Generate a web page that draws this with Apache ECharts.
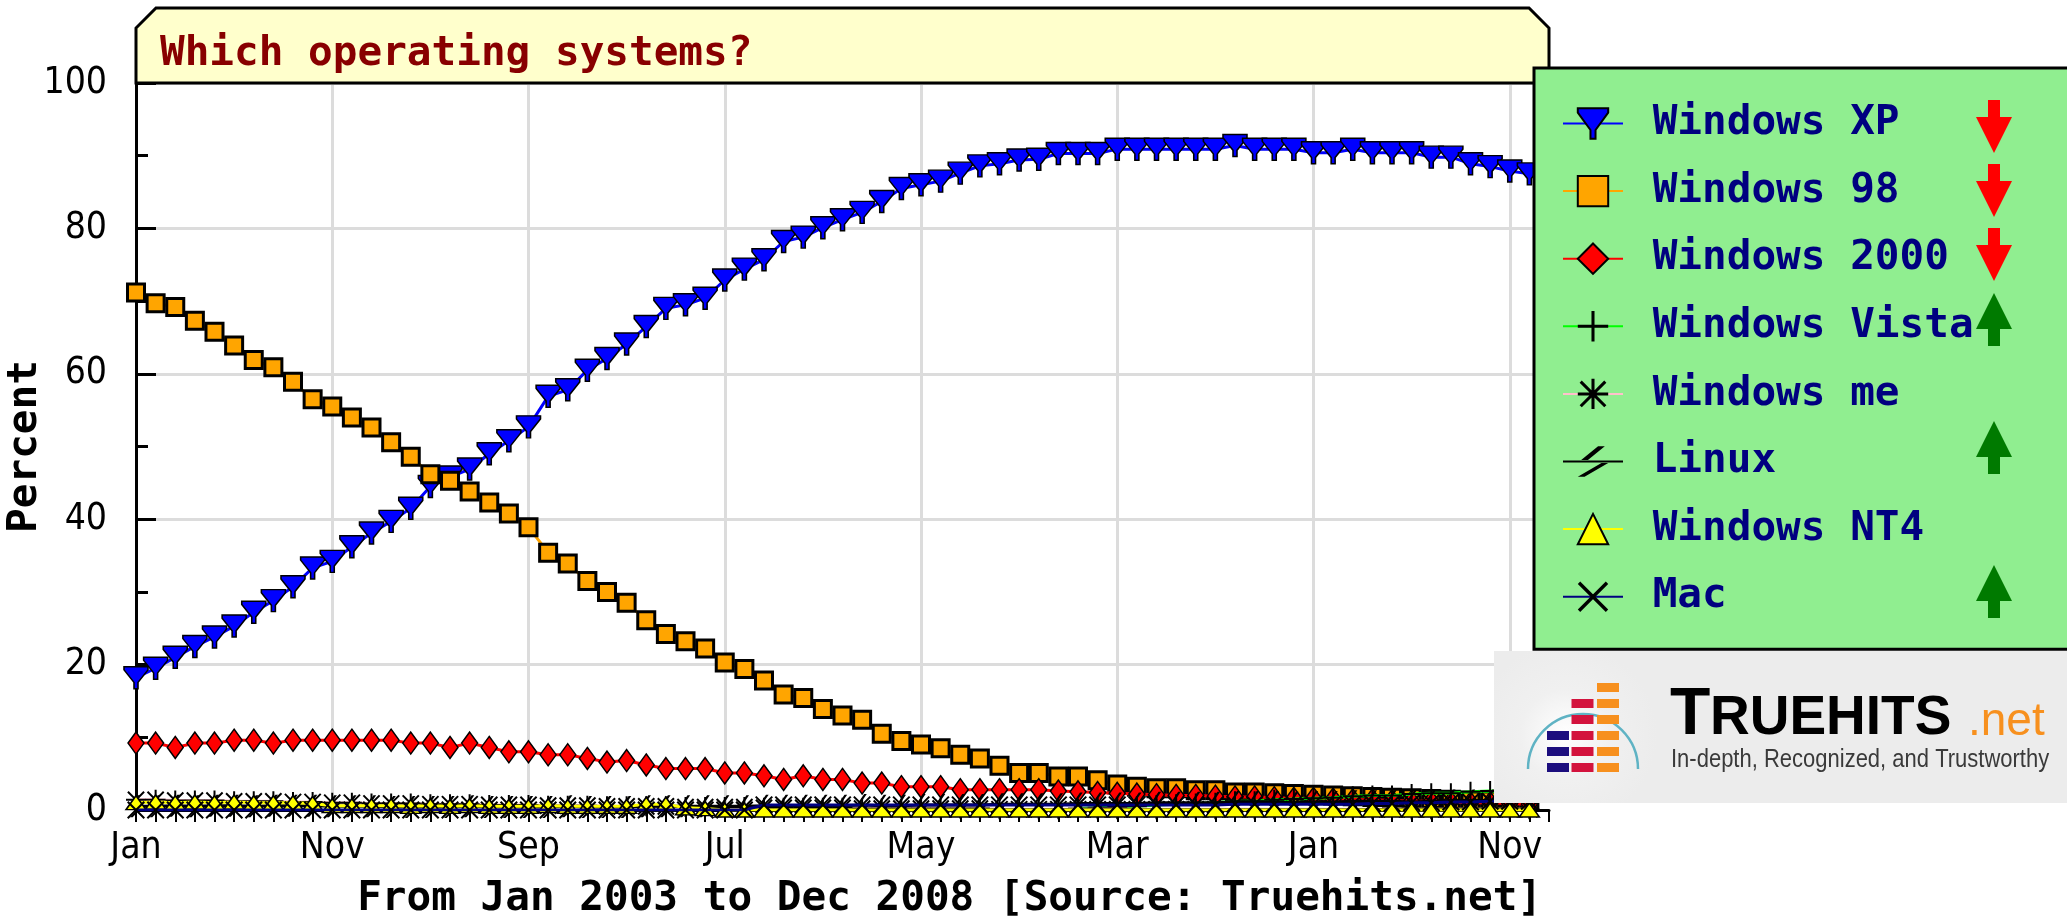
<!DOCTYPE html>
<html>
<head>
<meta charset="utf-8">
<script src="https://cdn.jsdelivr.net/npm/echarts@6/dist/echarts.min.js"></script>
<style>
  html, body { margin: 0; padding: 0; background: #ffffff; }
  #chart { width: 2067px; height: 922px; }
</style>
</head>
<body>
<div id="chart"></div>
<script>
// ---------------- DATA ----------------
const monthNames = ['Jan','Feb','Mar','Apr','May','Jun','Jul','Aug','Sep','Oct','Nov','Dec'];
const years = [2003, 2004, 2005, 2006, 2007, 2008];
const seriesNames = ['Windows XP','Windows 98','Windows 2000','Windows Vista','Windows me','Linux','Windows NT4','Mac'];
const trends = ['down','down','down','up',null,'up',null,'up'];
const yTicks = [0, 20, 40, 60, 80, 100];

const winXP = [18.2,19.5,21.0,22.5,23.8,25.3,27.2,28.8,30.7,33.3,
  34.2,36.2,38.1,39.7,41.5,44.5,45.8,46.9,49.0,50.8,
  52.7,56.9,57.8,60.5,62.1,64.1,66.5,69.0,69.5,70.4,
  72.9,74.4,75.7,78.2,78.8,80.1,81.2,82.2,83.7,85.5,
  86.0,86.5,87.6,88.6,88.9,89.4,89.5,90.3,90.3,90.3,
  90.9,90.9,90.9,90.9,90.9,90.9,91.4,90.9,90.9,90.9,
  90.4,90.4,90.9,90.4,90.4,90.4,89.8,89.8,88.9,88.5,
  87.9,87.5];
const win98 = [71.2,69.7,69.2,67.3,65.8,63.9,61.9,60.9,58.9,56.5,
  55.5,54.0,52.6,50.6,48.6,46.2,45.3,43.8,42.3,40.8,
  38.9,35.4,33.9,31.5,30.0,28.5,26.1,24.2,23.2,22.2,
  20.3,19.4,17.8,15.9,15.4,13.9,13.0,12.4,10.5,9.5,
  9.0,8.5,7.6,7.1,6.1,5.1,5.1,4.6,4.6,4.1,
  3.5,3.2,3.0,3.0,2.7,2.7,2.4,2.4,2.3,2.2,
  2.1,2.0,1.9,1.8,1.7,1.6,1.5,1.4,1.3,1.3,
  1.2,1.1];
const win2000 = [9.2,9.2,8.6,9.2,9.2,9.6,9.6,9.2,9.6,9.6,
  9.6,9.6,9.6,9.6,9.2,9.2,8.6,9.2,8.6,8.0,
  8.0,7.6,7.6,7.1,6.6,6.8,6.2,5.7,5.7,5.7,
  5.1,5.1,4.7,4.2,4.7,4.2,4.2,3.7,3.7,3.2,
  3.2,3.2,2.8,2.8,2.8,2.8,2.8,2.6,2.5,2.4,
  2.3,2.2,2.1,2.0,2.0,1.9,1.8,1.8,1.7,1.6,
  1.6,1.5,1.4,1.4,1.3,1.2,1.2,1.1,1.0,1.0,
  0.9,0.8];
const winVista = [null,null,null,null,null,null,null,null,null,null,
  null,null,null,null,null,null,null,null,null,null,
  null,null,null,null,null,null,null,null,null,null,
  null,null,null,null,null,null,null,null,null,null,
  null,null,null,null,null,null,null,null,0.2,0.3,
  0.4,0.5,0.7,0.8,0.9,1.0,1.2,1.2,1.4,1.5,
  1.6,1.7,1.9,2.0,2.0,2.2,2.3,2.3,2.5,2.6,
  2.5,2.6];
const winMe = [1.4,1.4,1.3,1.3,1.3,1.2,1.2,1.2,1.1,1.1,
  1.0,1.0,0.9,0.9,0.9,0.8,0.8,0.8,0.7,0.7,
  0.7,0.6,0.6,0.6,0.5,0.5,0.5,0.5,0.4,0.4,
  0.4,0.4,0.3,0.3,0.3,0.3,0.3,0.2,0.2,0.2,
  0.2,0.2,0.2,0.2,0.1,0.1,0.1,0.1,0.1,0.1,
  0.1,0.1,0.1,0.1,0.1,0.1,0.1,0.1,0.1,0.1,
  0.1,0.1,0.1,0.1,0.1,0.1,0.1,0.1,0.1,0.1,
  0.1,0.1];
const linux = [0.5,0.5,0.6,0.5,0.6,0.6,0.5,0.6,0.6,0.6,
  0.5,0.5,0.5,0.4,0.4,0.4,0.4,0.5,0.4,0.4,
  0.4,0.4,0.5,0.4,0.4,0.4,0.5,0.5,0.5,0.5,
  0.5,0.5,0.6,0.6,0.6,0.6,0.6,0.7,0.6,0.6,
  0.7,0.7,0.7,0.7,0.8,0.8,0.8,0.8,0.9,0.9,
  0.9,0.9,1.0,1.0,1.0,1.0,1.1,1.1,1.1,1.0,
  1.1,1.1,1.2,1.2,1.2,1.1,1.2,1.3,1.3,1.3,
  1.4,1.4];
const winNT4 = [1.0,1.1,1.0,1.1,1.0,1.1,1.0,1.0,1.0,0.9,
  0.6,0.6,0.6,0.6,0.5,0.6,0.5,0.6,0.5,0.5,
  0.5,0.6,0.5,0.5,0.5,0.5,0.8,0.8,0.3,0.2,
  0.0,0.0,0.0,0.0,0.0,0.0,0.0,0.0,0.0,0.0,
  0.0,0.0,0.0,0.0,0.0,0.0,0.0,0.0,0.0,0.0,
  0.0,0.0,0.0,0.0,0.0,0.0,0.0,0.0,0.0,0.0,
  0.0,0.0,0.0,0.0,0.0,0.0,0.0,0.0,0.0,0.0,
  0.0,0.0];
const mac = [0.0,0.0,0.0,0.0,0.0,0.0,0.0,0.0,0.0,0.0,
  0.0,0.0,0.0,0.0,0.0,0.0,0.0,0.0,0.0,0.0,
  0.0,0.0,0.0,0.0,0.0,0.0,0.0,0.0,0.0,0.0,
  0.0,0.0,0.7,0.7,0.7,0.7,0.7,0.7,0.7,0.7,
  0.7,0.7,0.7,0.7,0.7,0.7,0.7,0.7,0.7,0.7,
  0.7,0.7,0.7,0.7,0.7,0.7,0.8,0.8,0.8,0.8,
  0.8,0.8,0.8,0.9,0.9,1.0,1.0,1.1,1.1,1.2,
  1.2,1.2];

// month categories Jan 2003 .. Dec 2008
const categories = [];
years.forEach(y => monthNames.forEach(m => categories.push(m + ' ' + y)));

// ---------------- STYLE ----------------
const MONO = "'DejaVu Sans Mono', 'Liberation Mono', monospace";
const COND = "'DejaVu Sans Condensed', 'Liberation Sans Narrow', 'DejaVu Sans', sans-serif";

const SYM = {
  xp: 'path://M0,0H24V3L14,15V21H10V15L0,3Z',
  plus: 'path://M9,0H11V9H20V11H11V20H9V11H0V9H9Z',
  star: 'path://M9,0H11V20H9Z M0,9H20V11H0Z M2.6,1.2L18.8,17.4L17.4,18.8L1.2,2.6Z M17.4,1.2L18.8,2.6L2.6,18.8L1.2,17.4Z',
  zig: 'path://M12,0H14L9,9H7Z M13,11H15L8,20H6Z',
  cross: 'path://M2.6,1.2L18.8,17.4L17.4,18.8L1.2,2.6Z M17.4,1.2L18.8,2.6L2.6,18.8L1.2,17.4Z'
};

const seriesDefs = [
  { data: winXP,    line: '#0000ff', symbol: SYM.xp,      size: [24, 22], fill: '#0000ff', border: '#000', bw: 1.5 },
  { data: win98,    line: '#ffa500', symbol: 'rect',      size: 17,       fill: '#ffa500', border: '#000', bw: 3 },
  { data: win2000,  line: '#ff0000', symbol: 'diamond',   size: [16, 22], fill: '#ff0000', border: '#000', bw: 1.5 },
  { data: winVista, line: '#00ff00', symbol: SYM.plus,    size: 20,       fill: '#000000', border: '#000', bw: 0 },
  { data: winMe,    line: '#ffc0cb', symbol: SYM.star,    size: 20,       fill: '#000000', border: '#000', bw: 0 },
  { data: linux,    line: '#000000', symbol: SYM.zig,     size: [12, 22], fill: '#000000', border: '#000', bw: 0 },
  { data: winNT4,   line: '#ffff00', symbol: 'triangle',  size: [20, 14], fill: '#ffff00', border: '#000', bw: 1.5 },
  { data: mac,      line: '#000080', symbol: SYM.cross,   size: 18,       fill: '#000000', border: '#000', bw: 0 }
];

const series = seriesDefs.map((d, i) => ({
  name: seriesNames[i],
  type: 'line',
  data: d.data,
  showAllSymbol: true,
  symbol: d.symbol,
  symbolSize: d.size,
  connectNulls: false,
  animation: false,
  z: 2 + i * 0.01,
  lineStyle: { color: d.line, width: 3 },
  itemStyle: { color: d.fill, borderColor: d.border, borderWidth: d.bw },
  emphasis: { disabled: true }
}));

// ---------------- DECORATIONS ----------------
const graphics = [];
// title box with chamfered corners
graphics.push({
  type: 'polygon', z: 1,
  shape: { points: [[136, 83], [136, 28], [156, 8], [1529, 8], [1549, 28], [1549, 83]] },
  style: { fill: '#ffffcc', stroke: '#000', lineWidth: 3 }
});
// trend arrows in legend (top edge of each arrow, per legend row)
const arrowTops = [100, 164, 228, 293, null, 421, null, 565];
trends.forEach((t, i) => {
  if (!t) return;
  const cx = 1994, top = arrowTops[i], bot = top + 53;
  let pts;
  if (t === 'down') {
    pts = [[cx - 6, top], [cx + 6, top], [cx + 6, top + 17], [cx + 18, top + 17], [cx, bot], [cx - 18, top + 17], [cx - 6, top + 17]];
  } else {
    pts = [[cx, top], [cx + 18, top + 36], [cx + 6, top + 36], [cx + 6, bot], [cx - 6, bot], [cx - 6, top + 36], [cx - 18, top + 36]];
  }
  graphics.push({ type: 'polygon', z: 20, shape: { points: pts },
    style: { fill: t === 'down' ? '#ff0000' : '#007a00' } });
});
// Truehits logo box
const logo = { type: 'group', x: 1494, y: 651, z: 20, children: [] };
logo.children.push({
  type: 'rect', z: 20, shape: { x: 0, y: 0, width: 600, height: 152 },
  style: { fill: new echarts.graphic.RadialGradient(0.12, 0.55, 0.6, [
    { offset: 0, color: '#ffffff' }, { offset: 0.5, color: '#f0f0f0' }, { offset: 1, color: '#ececec' }]) }
});
logo.children.push({
  type: 'arc', z: 21, shape: { cx: 89, cy: 118, r: 55, startAngle: Math.PI, endAngle: Math.PI * 2, clockwise: true },
  style: { stroke: '#5fb3c4', lineWidth: 2.5, fill: null }
});
const barCols = [
  { x: 53, color: '#1c0e7e', rows: 3 },
  { x: 77.5, color: '#d3133d', rows: 5 },
  { x: 103, color: '#f7901e', rows: 6 }
];
barCols.forEach(col => {
  for (let r = 0; r < col.rows; r++) {
    const y = 112 - 16 * r;
    logo.children.push({ type: 'rect', z: 22, shape: { x: col.x, y: y, width: 22, height: 9 }, style: { fill: col.color } });
  }
});
logo.children.push({ type: 'text', z: 22, x: 176, y: 98,
  style: { text: 'T', font: "bold 66px 'Liberation Sans', Arial, sans-serif", fill: '#000', textVerticalAlign: 'bottom', verticalAlign: 'bottom' } });
logo.children.push({ type: 'text', z: 22, x: 216, y: 95.5,
  style: { text: 'RUEHITS', font: "bold 55px 'Liberation Sans', Arial, sans-serif", fill: '#000', textVerticalAlign: 'bottom', verticalAlign: 'bottom' } });
logo.children.push({ type: 'text', z: 22, x: 474, y: 94,
  style: { text: '.net', font: "46px 'Liberation Sans', Arial, sans-serif", fill: '#f7901e', textVerticalAlign: 'bottom', verticalAlign: 'bottom' } });
logo.children.push({ type: 'text', z: 22, x: 177, y: 96, scaleX: 0.846,
  style: { text: 'In-depth, Recognized, and Trustworthy', font: "26px 'Liberation Sans', Arial, sans-serif", fill: '#3a3a3a', textVerticalAlign: 'top', verticalAlign: 'top' } });
graphics.push(logo);

// ---------------- CHART ----------------
const chart = echarts.init(document.getElementById('chart'), null, { renderer: 'canvas' });
chart.setOption({
  backgroundColor: '#ffffff',
  animation: false,
  title: [
    { text: 'Which operating systems?', left: 160, top: 34, padding: 0, z: 6,
      textStyle: { fontFamily: MONO, fontWeight: 'bold', fontSize: 41, color: '#880000' } },
    { text: 'From Jan 2003 to Dec 2008 [Source: Truehits.net]', right: 525, top: 879, padding: 0,
      textStyle: { fontFamily: MONO, fontWeight: 'bold', fontSize: 41, color: '#000000' } }
  ],
  grid: { left: 136, right: 518, top: 83, bottom: 112, containLabel: false, outerBoundsMode: 'none' },
  legend: {
    orient: 'vertical', left: 1534, top: 68,
    itemWidth: 60, itemHeight: 38, itemGap: 26.6,
    padding: [35, 300, 32, 28],
    backgroundColor: '#90ee90', borderColor: '#000000', borderWidth: 3,
    selectedMode: false,
    data: seriesNames,
    formatter: n => ' ' + n,
    textStyle: { fontFamily: MONO, fontWeight: 'bold', fontSize: 41, color: '#000080' }
  },
  xAxis: {
    type: 'category',
    data: categories.concat(['']),
    boundaryGap: false,
    axisLine: { show: true, lineStyle: { color: '#000', width: 3 } },
    axisTick: { show: true, interval: 0, length: 12, lineStyle: { color: '#000', width: 2 } },
    axisLabel: { interval: 9, margin: 20, fontFamily: COND, fontSize: 37, color: '#000',
      formatter: v => v.slice(0, 3) },
    splitLine: { show: true, interval: 9, lineStyle: { color: '#dcdcdc', width: 3 } }
  },
  yAxis: {
    type: 'value', min: yTicks[0], max: yTicks[yTicks.length - 1], interval: 20,
    name: 'Percent', nameLocation: 'middle', nameGap: 90, nameRotate: 90, nameMoveOverlap: false,
    nameTextStyle: { fontFamily: MONO, fontWeight: 'bold', fontSize: 41, color: '#000' },
    axisLine: { show: true, lineStyle: { color: '#000', width: 3 } },
    axisTick: { show: true, inside: true, length: 20, lineStyle: { color: '#000', width: 3 } },
    minorTick: { show: true, splitNumber: 2, length: 12, lineStyle: { color: '#000', width: 3 } },
    axisLabel: { margin: 29, fontFamily: COND, fontSize: 37, color: '#000' },
    splitLine: { show: true, lineStyle: { color: '#dcdcdc', width: 3 } }
  },
  graphic: graphics,
  series: series
});
</script>
</body>
</html>
